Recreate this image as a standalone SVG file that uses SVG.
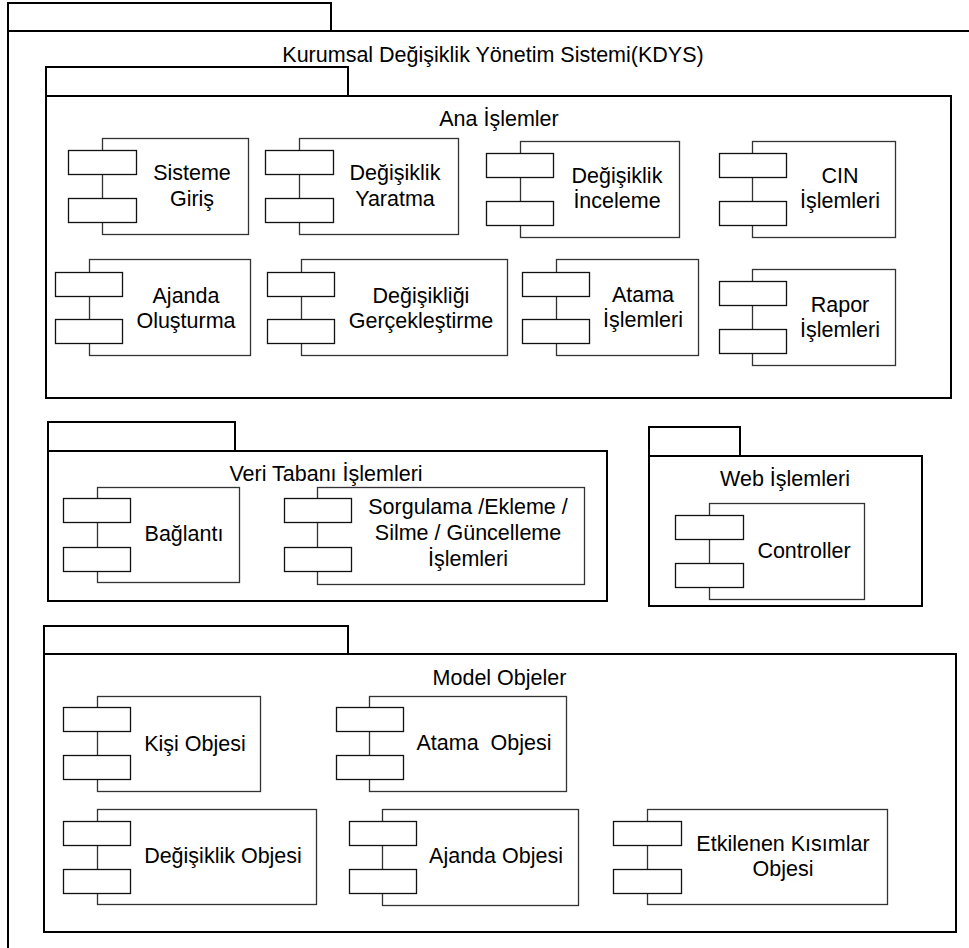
<svg xmlns="http://www.w3.org/2000/svg" width="969" height="948" viewBox="0 0 969 948">
  <style>
    .pkg { fill: #ffffff; stroke: #000000; stroke-width: 2; }
    .body { fill: #ffffff; stroke: #333333; stroke-width: 1.3; }
    .port { fill: #ffffff; stroke: #111111; stroke-width: 1.3; }
    text { font-family: "Liberation Sans", Arial, sans-serif; font-size: 21.5px; fill: #000000; text-anchor: middle; }
  </style>
  <rect width="969" height="948" fill="#ffffff"/>

  <!-- outer package -->
  <g id="pkg-kdys">
    <rect class="pkg" x="8" y="3" width="323" height="28"/>
    <rect class="pkg" x="8" y="31" width="975" height="930"/>
    <text x="493" y="62">Kurumsal Değişiklik Yönetim Sistemi(KDYS)</text>
  </g>

  <!-- Ana İşlemler package -->
  <g id="pkg-ana">
    <rect class="pkg" x="46" y="67" width="302" height="29"/>
    <rect class="pkg" x="46" y="96" width="905" height="302"/>
    <text x="499" y="126">Ana İşlemler</text>
  </g>
  <g id="cmp-sisteme-giris">
    <rect class="body" x="102.5" y="138.5" width="146" height="96"/>
    <rect class="port" x="68.5" y="150.5" width="68" height="24"/>
    <rect class="port" x="68.5" y="198.5" width="68" height="24"/>
    <text x="192" y="180">Sisteme</text>
    <text x="192" y="206">Giriş</text>
  </g>
  <g id="cmp-degisiklik-yaratma">
    <rect class="body" x="299.5" y="138.5" width="159" height="96"/>
    <rect class="port" x="265.5" y="150.5" width="68" height="24"/>
    <rect class="port" x="265.5" y="198.5" width="68" height="24"/>
    <text x="395" y="180">Değişiklik</text>
    <text x="395" y="206">Yaratma</text>
  </g>
  <g id="cmp-degisiklik-inceleme">
    <rect class="body" x="520.5" y="141.5" width="159" height="96"/>
    <rect class="port" x="486.5" y="153.5" width="67" height="24"/>
    <rect class="port" x="486.5" y="201.5" width="67" height="24"/>
    <text x="617" y="183">Değişiklik</text>
    <text x="617" y="208">İnceleme</text>
  </g>
  <g id="cmp-cin-islemleri">
    <rect class="body" x="752.5" y="141.5" width="143" height="96"/>
    <rect class="port" x="719.5" y="153.5" width="67" height="24"/>
    <rect class="port" x="719.5" y="201.5" width="67" height="24"/>
    <text x="840" y="183">CIN</text>
    <text x="840" y="208">İşlemleri</text>
  </g>
  <g id="cmp-ajanda-olusturma">
    <rect class="body" x="89.5" y="259.5" width="161" height="96"/>
    <rect class="port" x="55.5" y="272.5" width="67" height="24"/>
    <rect class="port" x="55.5" y="319.5" width="67" height="24"/>
    <text x="186" y="303">Ajanda</text>
    <text x="186" y="328">Oluşturma</text>
  </g>
  <g id="cmp-degisikligi-gerceklestirme">
    <rect class="body" x="301.5" y="259.5" width="206" height="96"/>
    <rect class="port" x="267.5" y="272.5" width="67" height="24"/>
    <rect class="port" x="267.5" y="319.5" width="67" height="24"/>
    <text x="421" y="303">Değişikliği</text>
    <text x="421" y="328">Gerçekleştirme</text>
  </g>
  <g id="cmp-atama-islemleri">
    <rect class="body" x="556.5" y="259.5" width="142" height="96"/>
    <rect class="port" x="522.5" y="272.5" width="67" height="24"/>
    <rect class="port" x="522.5" y="319.5" width="67" height="24"/>
    <text x="643" y="302">Atama</text>
    <text x="643" y="327">İşlemleri</text>
  </g>
  <g id="cmp-rapor-islemleri">
    <rect class="body" x="752.5" y="269.5" width="143" height="96"/>
    <rect class="port" x="719.5" y="281.5" width="67" height="24"/>
    <rect class="port" x="719.5" y="329.5" width="67" height="24"/>
    <text x="840" y="312">Rapor</text>
    <text x="840" y="337">İşlemleri</text>
  </g>

  <!-- Veri Tabanı İşlemleri package -->
  <g id="pkg-veri-tabani">
    <rect class="pkg" x="48" y="422" width="187" height="29"/>
    <rect class="pkg" x="48" y="451" width="559" height="150"/>
    <text x="326" y="481">Veri Tabanı İşlemleri</text>
  </g>
  <g id="cmp-baglanti">
    <rect class="body" x="97.5" y="487.5" width="142" height="95"/>
    <rect class="port" x="63.5" y="498.5" width="67" height="24"/>
    <rect class="port" x="63.5" y="547.5" width="67" height="24"/>
    <text x="184" y="541">Bağlantı</text>
  </g>
  <g id="cmp-sorgulama">
    <rect class="body" x="317.5" y="487.5" width="267" height="97"/>
    <rect class="port" x="284.5" y="498.5" width="67" height="24"/>
    <rect class="port" x="284.5" y="547.5" width="67" height="24"/>
    <text x="468" y="514">Sorgulama /Ekleme /</text>
    <text x="468" y="540">Silme / Güncelleme</text>
    <text x="468" y="566">İşlemleri</text>
  </g>

  <!-- Web İşlemleri package -->
  <g id="pkg-web">
    <rect class="pkg" x="649" y="427" width="91" height="29"/>
    <rect class="pkg" x="649" y="456" width="273" height="150"/>
    <text x="785" y="486">Web İşlemleri</text>
  </g>
  <g id="cmp-controller">
    <rect class="body" x="709.5" y="503.5" width="155" height="96"/>
    <rect class="port" x="675.5" y="515.5" width="68" height="24"/>
    <rect class="port" x="675.5" y="563.5" width="68" height="24"/>
    <text x="804" y="558">Controller</text>
  </g>

  <!-- Model Objeler package -->
  <g id="pkg-model">
    <rect class="pkg" x="44" y="626" width="304" height="28"/>
    <rect class="pkg" x="44" y="654" width="912" height="278"/>
    <text x="499.5" y="685">Model Objeler</text>
  </g>
  <g id="cmp-kisi-objesi">
    <rect class="body" x="97.5" y="696.5" width="163" height="95"/>
    <rect class="port" x="63.5" y="707.5" width="67" height="24"/>
    <rect class="port" x="63.5" y="755.5" width="67" height="24"/>
    <text x="195" y="751">Kişi Objesi</text>
  </g>
  <g id="cmp-atama-objesi">
    <rect class="body" x="369.5" y="696.5" width="197" height="95"/>
    <rect class="port" x="336.5" y="707.5" width="67" height="24"/>
    <rect class="port" x="336.5" y="755.5" width="67" height="24"/>
    <text x="484" y="750" xml:space="preserve" style="white-space:pre">Atama  Objesi</text>
  </g>
  <g id="cmp-degisiklik-objesi">
    <rect class="body" x="97.5" y="809.5" width="219" height="95"/>
    <rect class="port" x="63.5" y="821.5" width="67" height="24"/>
    <rect class="port" x="63.5" y="869.5" width="67" height="24"/>
    <text x="223" y="863">Değişiklik Objesi</text>
  </g>
  <g id="cmp-ajanda-objesi">
    <rect class="body" x="382.5" y="809.5" width="196" height="96"/>
    <rect class="port" x="349.5" y="821.5" width="67" height="24"/>
    <rect class="port" x="349.5" y="869.5" width="67" height="24"/>
    <text x="496" y="863">Ajanda Objesi</text>
  </g>
  <g id="cmp-etkilenen-kisimlar">
    <rect class="body" x="647.5" y="809.5" width="240" height="95"/>
    <rect class="port" x="613.5" y="821.5" width="68" height="24"/>
    <rect class="port" x="613.5" y="869.5" width="68" height="24"/>
    <text x="783" y="851">Etkilenen Kısımlar</text>
    <text x="783" y="876">Objesi</text>
  </g>

  <!-- no connectors between these elements -->
  <g id="connectors"/>
</svg>
